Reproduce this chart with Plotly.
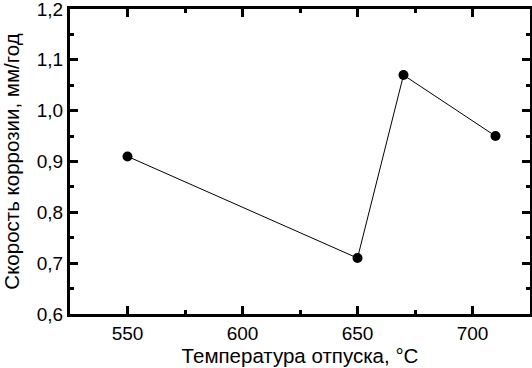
import plotly.graph_objects as go

temperature = [550, 650, 670, 710]
corrosion_rate = [0.91, 0.71, 1.07, 0.95]
x_ticks = [550, 600, 650, 700]
y_ticks = [0.6, 0.7, 0.8, 0.9, 1.0, 1.1, 1.2]
x_title = "Температура отпуска, °С"
y_title = "Скорость коррозии, мм/год"

FONT = "Liberation Sans, Arial, sans-serif"

fig = go.Figure()
fig.add_trace(go.Scatter(
    x=temperature, y=corrosion_rate, mode="lines+markers",
    line=dict(color="black", width=1),
    marker=dict(color="black", size=10),
    showlegend=False, cliponaxis=False,
))

axis_common = dict(
    showline=True, linecolor="black", linewidth=3, mirror="ticks",
    ticks="inside", ticklen=8, tickwidth=3, tickcolor="black",
    showgrid=False, zeroline=False, automargin=False,
    ticklabeloverflow="allow",
    tickfont=dict(family=FONT, size=19, color="black"),
)

fig.update_xaxes(
    range=[525, 725], tickvals=x_ticks,
    minor=dict(ticks="inside", ticklen=4, tickwidth=3, tickcolor="black", dtick=25, tick0=525),
    title=dict(text=x_title, font=dict(family=FONT, size=20.5, color="black"), standoff=2),
    **axis_common,
)
fig.update_yaxes(
    range=[0.6, 1.2], tickvals=y_ticks, tickformat=".1f",
    minor=dict(ticks="inside", ticklen=4, tickwidth=3, tickcolor="black", dtick=0.05, tick0=0.6),
    title=dict(text=y_title, font=dict(family=FONT, size=20.5, color="black"), standoff=14),
    **axis_common,
)

fig.update_layout(
    width=532, height=368,
    margin=dict(l=70, r=2, t=9, b=54),
    plot_bgcolor="white", paper_bgcolor="white",
    separators=", ",
)

fig.write_html("out.html", config={"displayModeBar": False},
               post_script="document.body.style.margin='0';")
